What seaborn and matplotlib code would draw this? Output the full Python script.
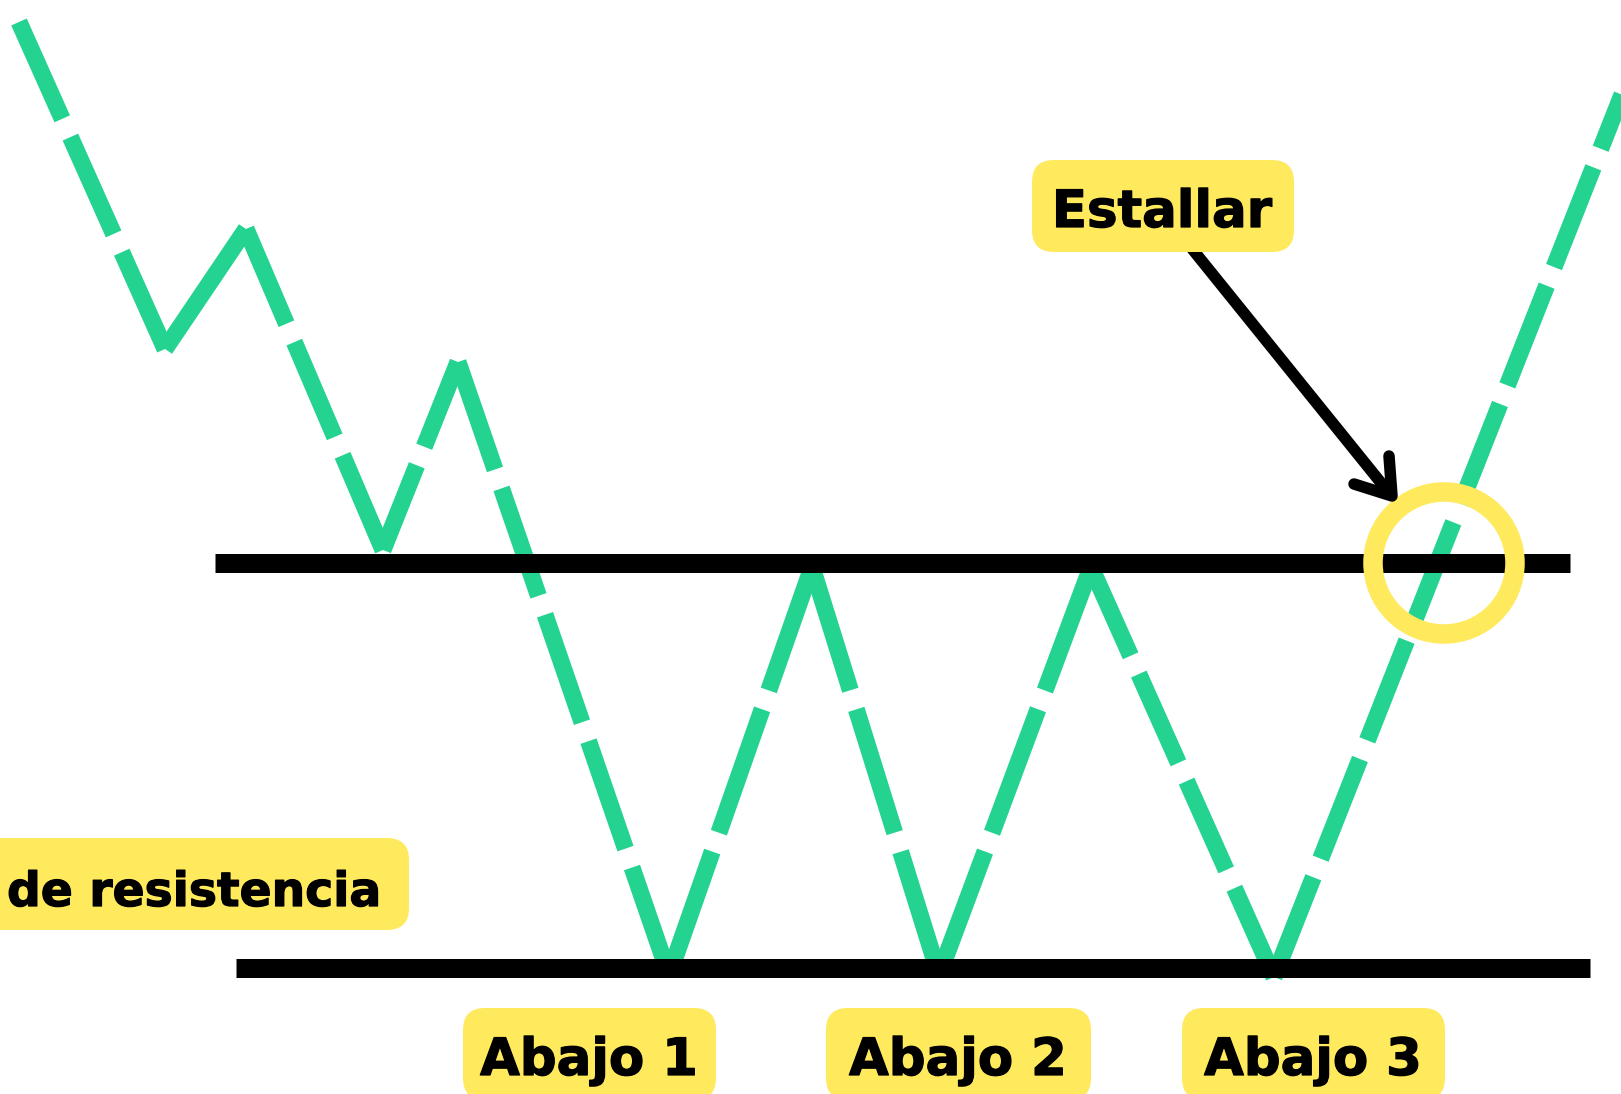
import numpy as np
import pandas as pd
import matplotlib
matplotlib.use("Agg")
import matplotlib.pyplot as plt
import matplotlib.patheffects as pe
import seaborn as sns
from matplotlib.patches import FancyBboxPatch, Circle

# ---- data (drawing-space coordinates of the price path) ----
price_x = [19, 165, 246, 383, 458, 669, 812, 939, 1091, 1274, 1640]
price_y = [22, 349, 229, 550, 362, 975, 567, 975, 567, 977, 49]
resistance_level = 563
resistance_span = [215, 1570]
support_level = 968
support_span = [236, 1590]
bottom_labels = ["Abajo 1", "Abajo 2", "Abajo 3"]
breakout_label = "Estallar"
line_label = "de resistencia"

GREEN = "#25D391"
YELLOW = "#FFE95C"

W, H, DPI = 1621, 1094, 100
PT = 72 / DPI

sns.set_style("white")
plt.rcParams['font.family'] = ['DejaVu Sans']

fig = plt.figure(figsize=(W / DPI, H / DPI), dpi=DPI)
ax = fig.add_axes([0, 0, 1, 1])

# zigzag: each leg drawn separately, dashes fitted so every pivot is solid
rows = []
for i in range(len(price_x) - 1):
    rows.append({"x": price_x[i], "y": price_y[i], "leg": i})
    rows.append({"x": price_x[i + 1], "y": price_y[i + 1], "leg": i})
legs = pd.DataFrame(rows)
lw_g = 17 * PT
n_before = len(ax.lines)
sns.lineplot(data=legs, x="x", y="y", units="leg", estimator=None, sort=False,
             color=GREEN, linewidth=lw_g, linestyle="--",
             dash_capstyle="butt", ax=ax, zorder=2, legend=False)
DASH, GAP = 112.0, 20.0  # pixels
for line in ax.lines[n_before:]:
    xd, yd = line.get_xdata(), line.get_ydata()
    L = float(np.hypot(xd[-1] - xd[0], yd[-1] - yd[0]))
    n = max(1, int(round((L + GAP) / (DASH + GAP))))
    d = (L - (n - 1) * GAP) / n
    line.set_dashes((d * PT / lw_g, GAP * PT / lw_g))
    line.set_dash_capstyle("butt")

# resistance / support lines
lw_k = 19 * PT
sns.lineplot(x=resistance_span, y=[resistance_level] * 2, color="black",
             linewidth=lw_k, solid_capstyle="butt", ax=ax, zorder=3)
sns.lineplot(x=support_span, y=[support_level] * 2, color="black",
             linewidth=lw_k, solid_capstyle="butt", ax=ax, zorder=3)

ax.set_xlim(0, W)
ax.set_ylim(H, 0)
ax.set_aspect("equal")
ax.axis("off")

# breakout circle
ax.add_patch(Circle((1444, 563), 71, fill=False, edgecolor=YELLOW,
                    linewidth=19.5 * PT, zorder=4))

# arrow
lw_a = 11.5 * PT
ax.plot([1185, 1390], [240, 494], color="black", linewidth=lw_a,
        solid_capstyle="butt", zorder=5)
ax.plot([1354, 1392, 1389], [484, 496, 456], color="black", linewidth=lw_a,
        solid_capstyle="round", solid_joinstyle="round", zorder=5)

FS = 37
heavy = [pe.withStroke(linewidth=0.9, foreground="black")]


def label(x0, y0, w, h, text, tx, ty, ha="center", fs=FS):
    ax.add_patch(FancyBboxPatch((x0, y0), w, h,
                                boxstyle="round,pad=0,rounding_size=22",
                                facecolor=YELLOW, edgecolor="none", zorder=6))
    ax.text(tx, ty, text, ha=ha, va="baseline", fontsize=fs,
            fontweight="bold", color="black", zorder=7, path_effects=heavy)


label(1032, 160, 262, 92, breakout_label, 1162, 227)
label(-60, 838, 469, 92, line_label, 382, 906, ha="right", fs=34)
label(463, 1008, 253, 92, bottom_labels[0], 589, 1075)
label(826, 1008, 265, 92, bottom_labels[1], 958, 1075)
label(1182, 1008, 263, 92, bottom_labels[2], 1313, 1075)

fig.savefig("out.png", dpi=DPI)
